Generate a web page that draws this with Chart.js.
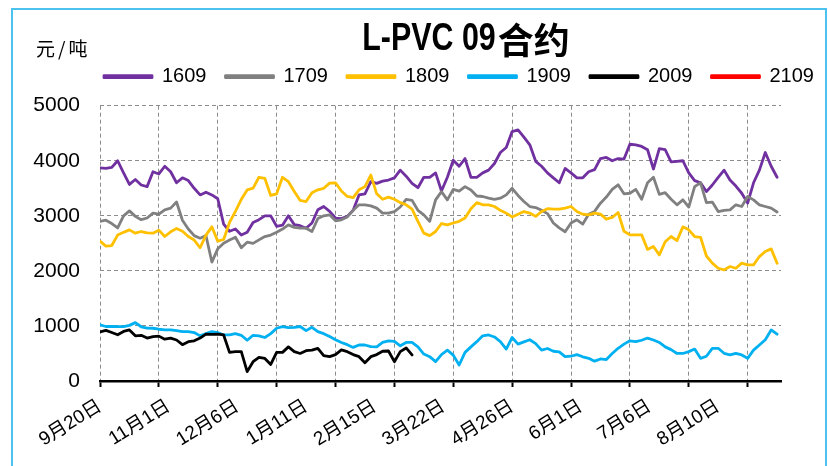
<!DOCTYPE html>
<html>
<head>
<meta charset="utf-8">
<title>L-PVC 09合约</title>
<script src="https://cdn.jsdelivr.net/npm/chart.js@4.4.1/dist/chart.umd.min.js"></script>
<style>
  html, body { margin: 0; padding: 0; background: #fff; }
</style>
</head>
<body>
<canvas id="graph" width="828" height="466"></canvas>
<script>
"use strict";
// one sample every STEP trading days, starting at 9月20日
const STEP = 3;
const AXIS_DAYS = 347;
const GRID_EVERY = 30;
const LABEL_EVERY = 35;

const DATE_LABELS = [
    "9月20日", "11月1日", "12月6日", "1月11日", "2月15日",
    "3月22日", "4月26日", "6月1日", "7月6日", "8月10日",
];

const PVC_1609 = [
    3870, 3860, 3880, 4000, 3780, 3570, 3660, 3560, 3530, 3800, 3760, 3900,
    3800, 3600, 3690, 3640, 3500, 3380, 3430, 3380, 3310, 2850, 2720, 2760,
    2650, 2700, 2880, 2930, 3000, 3000, 2810, 2830, 3000, 2840, 2820, 2775,
    2870, 3110, 3170, 3080, 2960, 2950, 2990, 3100, 3380, 3400, 3620, 3590,
    3630, 3650, 3690, 3830, 3720, 3590, 3510, 3700, 3700, 3780, 3450, 3700,
    4010, 3900, 4040, 3700, 3700, 3780, 3830, 3950, 4150, 4240, 4530, 4560,
    4430, 4290, 3990, 3900, 3780, 3690, 3600, 3860, 3780, 3690, 3690, 3800,
    3840, 4040, 4060, 4000, 4040, 4030, 4300, 4290, 4260, 4200, 3850, 4220,
    4200, 3980, 3990, 4000, 3780, 3640, 3600, 3440, 3560, 3700, 3830, 3650,
    3540, 3410, 3230, 3600, 3830, 4150, 3900, 3700,
];
const PVC_1709 = [
    2900, 2920, 2860, 2780, 3000, 3090, 2990, 2930, 2960, 3048, 3030, 3109,
    3140, 3250, 2920, 2760, 2640, 2594, 2640, 2160, 2400, 2503, 2560, 2610,
    2420, 2520, 2500, 2563, 2624, 2650, 2700, 2760, 2836, 2790, 2775, 2775,
    2715, 2950, 3000, 3018, 2910, 2927, 2980, 3100, 3200, 3200, 3180, 3140,
    3048, 3050, 3078, 3160, 3300, 3280, 3100, 3018, 2900, 3290, 3440, 3290,
    3480, 3450, 3530, 3470, 3360, 3351, 3320, 3300, 3320, 3380, 3500, 3370,
    3260, 3169, 3150, 3100, 3040, 2870, 2780, 2710, 2870, 2927, 2850, 3030,
    3080, 3230, 3340, 3480, 3563, 3400, 3410, 3480, 3300, 3600, 3700, 3390,
    3420, 3300, 3200, 3290, 3160, 3530, 3600, 3240, 3250, 3078, 3100, 3109,
    3200, 3169, 3350, 3290, 3200, 3169, 3140, 3070,
];
const PVC_1809 = [
    2540, 2450, 2460, 2650, 2700, 2745, 2685, 2715, 2690, 2685, 2740, 2624,
    2710, 2770, 2720, 2624, 2560, 2420, 2650, 2800, 2540, 2570, 2880, 3080,
    3300, 3470, 3503, 3700, 3680, 3370, 3400, 3700, 3620, 3442, 3280, 3260,
    3420, 3472, 3500, 3594, 3600, 3450, 3351, 3330, 3472, 3530, 3740, 3400,
    3300, 3340, 3300, 3240, 3200, 3120, 2900, 2685, 2640, 2715, 2860, 2836,
    2870, 2900, 2960, 3130, 3240, 3200, 3200, 3169, 3100, 3048, 2980, 3030,
    3078, 3050, 2990, 3078, 3130, 3120, 3120, 3140, 3169, 3078, 3030, 3018,
    3048, 3030, 2940, 2970, 3060, 2720, 2654, 2654, 2654, 2390, 2442, 2290,
    2530, 2624, 2550, 2800, 2745, 2624, 2610, 2270, 2140, 2048, 2018, 2079,
    2048, 2140, 2109, 2109, 2260, 2351, 2400, 2139,
];
const PVC_1909 = [
    1020, 990, 990, 988, 988, 1010, 1060, 985, 960, 958, 940, 930,
    927, 915, 897, 897, 880, 820, 860, 897, 880, 836, 836, 860,
    830, 740, 830, 820, 790, 860, 958, 988, 970, 975, 990, 915,
    975, 897, 860, 806, 750, 700, 660, 610, 654, 654, 624, 620,
    700, 730, 720, 640, 700, 700, 620, 490, 442, 351, 480, 560,
    470, 291, 520, 620, 715, 820, 836, 800, 715, 580, 790, 670,
    710, 750, 680, 560, 590, 540, 530, 442, 450, 480, 440, 412,
    360, 400, 390, 500, 594, 670, 730, 715, 740, 780, 745, 700,
    620, 570, 500, 500, 533, 580, 412, 450, 594, 594, 503, 473,
    503, 473, 412, 560, 654, 750, 927, 850,
];
const PVC_2009 = [
    890, 920, 880, 840, 900, 927, 820, 830, 780, 806, 815, 760,
    780, 745, 660, 715, 730, 780, 850, 845, 850, 836, 520, 533,
    533, 170, 350, 430, 410, 300, 520, 520, 620, 533, 500, 550,
    560, 594, 460, 442, 480, 564, 533, 480, 442, 330, 442, 480,
    540, 545, 351, 533, 600, 473,
];
const PVC_2109 = [];

const SERIES = [
    { label: "1609", color: "#7030A0", values: PVC_1609 },
    { label: "1709", color: "#808080", values: PVC_1709 },
    { label: "1809", color: "#FFC000", values: PVC_1809 },
    { label: "1909", color: "#00B0F0", values: PVC_1909 },
    { label: "2009", color: "#000000", values: PVC_2009 },
    { label: "2109", color: "#FF0000", values: PVC_2109 },
];

const TITLE_LATIN = "L-PVC 09";
const TITLE_CJK = "合约";
const UNIT = "元/吨";
const SANS = "'Liberation Sans', 'Noto Sans CJK SC', sans-serif";
const GRID_COLOR = "#8c8c8c";
const FRAME_COLOR = "#4cc2f0";
const LEGEND_X = 104;
const LEGEND_RAISE = 9;

function toPoints(values) {
    return values.map(function (v, i) {
        return { x: i * STEP, y: v };
    });
}

// condensed bold title: latin part squeezed, CJK part at normal width
function drawTitle(ctx, cx, cy) {
    const squeeze = 0.8;
    ctx.font = "bold 38px 'Liberation Sans'";
    const wLatin = ctx.measureText(TITLE_LATIN).width * squeeze;
    ctx.font = "bold 36px 'Noto Sans CJK SC'";
    const wCjk = ctx.measureText(TITLE_CJK).width;
    const x0 = cx - (wLatin + wCjk) / 2;
    ctx.textAlign = "left";
    ctx.textBaseline = "middle";
    ctx.save();
    ctx.translate(x0, cy);
    ctx.scale(squeeze, 1);
    ctx.font = "bold 38px 'Liberation Sans'";
    ctx.fillText(TITLE_LATIN, 0, 0);
    ctx.restore();
    ctx.font = "bold 36px 'Noto Sans CJK SC'";
    ctx.fillText(TITLE_CJK, x0 + wLatin + 2, cy);
}

// title, unit text, outer frame; legend moved to sit over the plot like the office chart
const chartChrome = {
    id: "chartChrome",
    afterLayout(chart) {
        const legend = chart.legend;
        const dx = LEGEND_X - legend.left - legend.options.labels.padding;
        legend.left += dx;
        legend.right += dx;
        legend.top -= LEGEND_RAISE;
        legend.bottom -= LEGEND_RAISE;
    },
    afterDraw(chart) {
        const ctx = chart.ctx;
        ctx.save();
        ctx.strokeStyle = FRAME_COLOR;
        ctx.lineWidth = 2;
        ctx.strokeRect(12, 9, 814, 480);
        ctx.fillStyle = "#000";
        drawTitle(ctx, 465, 40);
        ctx.textAlign = "left";
        ctx.font = "19px 'Noto Sans CJK SC'";
        ctx.letterSpacing = "3px";
        ctx.fillText(UNIT, 36, 49);
        ctx.restore();
    },
};

function drawGraph() {
    const datasets = SERIES.map(function (s, i) {
        return {
            label: s.label,
            data: toPoints(s.values),
            borderColor: s.color,
            backgroundColor: s.color,
            borderWidth: 2.8,
            borderCapStyle: "round",
            borderJoinStyle: "round",
            pointRadius: 0,
            tension: 0,
            fill: false,
            order: SERIES.length - i, // later contracts drawn on top
            xAxisID: "x",
            yAxisID: "y",
        };
    });

    const config = {
        type: "line",
        data: { datasets },
        options: {
            responsive: false,
            animation: false,
            devicePixelRatio: 1,
            layout: { padding: { top: 56.7, left: 12, right: 47, bottom: 0 } },
            plugins: {
                title: { display: false },
                tooltip: { enabled: false },
                legend: {
                    position: "top",
                    align: "start",
                    labels: {
                        boxWidth: 48,
                        boxHeight: 2,
                        padding: 19,
                        color: "#000",
                        font: { family: SANS, size: 20 },
                        sort: function (a, b) {
                            return a.datasetIndex - b.datasetIndex;
                        },
                    },
                },
            },
            scales: {
                x: {
                    type: "linear",
                    position: "bottom",
                    min: 0,
                    max: AXIS_DAYS,
                    ticks: { display: false, stepSize: GRID_EVERY, includeBounds: false },
                    grid: {
                        color: GRID_COLOR,
                        lineWidth: 1,
                        drawTicks: true,
                        tickLength: 6,
                        tickColor: "#000",
                        tickWidth: 2,
                    },
                    border: { display: true, color: "#000", width: 2.5, dash: [4, 3] },
                    afterFit: function (scale) {
                        scale.height = 6;
                    },
                },
                xDates: {
                    type: "linear",
                    position: "bottom",
                    weight: 1,
                    min: 0,
                    max: AXIS_DAYS,
                    ticks: {
                        stepSize: LABEL_EVERY,
                        includeBounds: false,
                        autoSkip: false,
                        minRotation: 32,
                        maxRotation: 32,
                        padding: 8,
                        color: "#000",
                        font: { family: SANS, size: 19 },
                        callback: function (value) {
                            return DATE_LABELS[Math.round(value / LABEL_EVERY)];
                        },
                    },
                    grid: { display: false, drawTicks: false },
                    border: { display: false },
                    afterFit: function (scale) {
                        scale.height = 79;
                    },
                },
                y: {
                    min: 0,
                    max: 5000,
                    ticks: {
                        stepSize: 1000,
                        padding: 20,
                        color: "#000",
                        font: { family: SANS, size: 21 },
                        callback: function (value) {
                            return String(value);
                        },
                    },
                    grid: {
                        drawTicks: false,
                        lineWidth: 1,
                        color: function (ctx) {
                            return ctx.tick && ctx.tick.value === 0 ? "rgba(0,0,0,0)" : GRID_COLOR;
                        },
                    },
                    border: { display: false, dash: [4, 3] },
                    afterFit: function (scale) {
                        scale.width = 88;
                    },
                },
            },
        },
        plugins: [chartChrome],
    };
    new Chart(document.getElementById("graph"), config);
}

drawGraph();
</script>
</body>
</html>
